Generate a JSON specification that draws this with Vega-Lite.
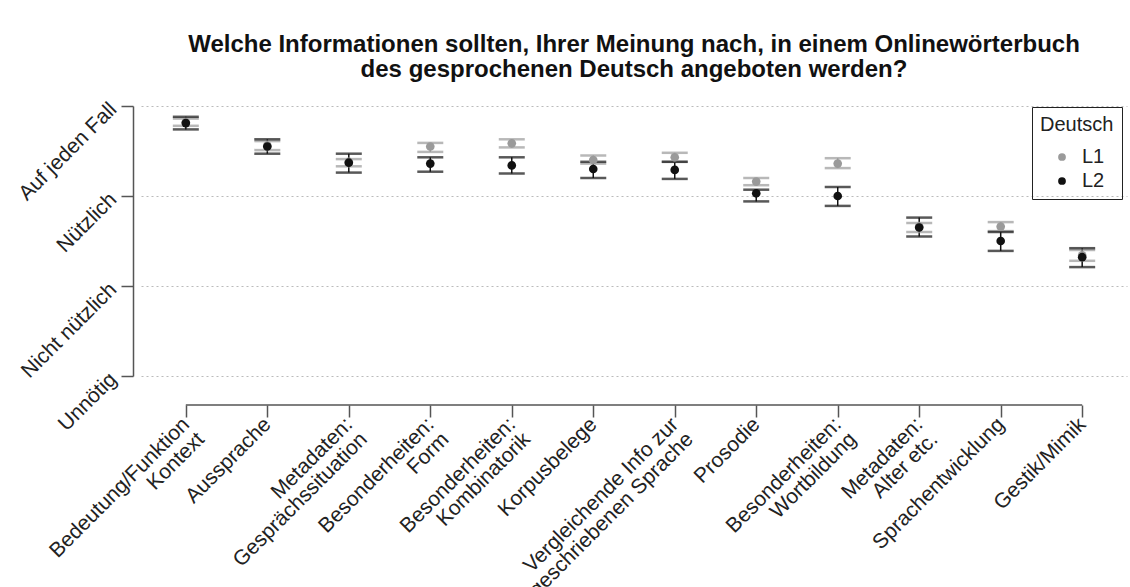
{
  "$schema": "https://vega.github.io/schema/vega-lite/v6.json",
  "autosize": "none",
  "width": 986,
  "height": 270,
  "padding": {"left": 141, "top": 106, "right": 3, "bottom": 211},
  "background": "white",
  "config": {
    "font": "Liberation Sans",
    "view": {"stroke": null}
  },
  "title": {
    "text": ["Welche Informationen sollten, Ihrer Meinung nach, in einem Onlinewörterbuch", "des gesprochenen Deutsch angeboten werden?"],
    "font": "Liberation Sans",
    "fontSize": 24,
    "fontWeight": "bold",
    "lineHeight": 25,
    "color": "#111",
    "anchor": "middle",
    "offset": 16
  },
  "resolve": {"legend": {"color": "independent"}},
  "data": {
    "values": [
      {"item": "Bedeutung/Funktion\nKontext", "group": "L1", "mean": 3.82, "lo": 3.78, "hi": 3.86},
      {"item": "Bedeutung/Funktion\nKontext", "group": "L2", "mean": 3.81, "lo": 3.74, "hi": 3.88},
      {"item": "Aussprache", "group": "L1", "mean": 3.56, "lo": 3.51, "hi": 3.61},
      {"item": "Aussprache", "group": "L2", "mean": 3.55, "lo": 3.47, "hi": 3.63},
      {"item": "Metadaten:\nGesprächssituation", "group": "L1", "mean": 3.38, "lo": 3.33, "hi": 3.41},
      {"item": "Metadaten:\nGesprächssituation", "group": "L2", "mean": 3.37, "lo": 3.26, "hi": 3.47},
      {"item": "Besonderheiten:\nForm", "group": "L1", "mean": 3.55, "lo": 3.49, "hi": 3.59},
      {"item": "Besonderheiten:\nForm", "group": "L2", "mean": 3.36, "lo": 3.27, "hi": 3.43},
      {"item": "Besonderheiten:\nKombinatorik", "group": "L1", "mean": 3.585, "lo": 3.54, "hi": 3.63},
      {"item": "Besonderheiten:\nKombinatorik", "group": "L2", "mean": 3.34, "lo": 3.25, "hi": 3.43},
      {"item": "Korpusbelege", "group": "L1", "mean": 3.40, "lo": 3.36, "hi": 3.45},
      {"item": "Korpusbelege", "group": "L2", "mean": 3.30, "lo": 3.20, "hi": 3.38},
      {"item": "Vergleichende Info zur\ngeschriebenen Sprache", "group": "L1", "mean": 3.43, "lo": 3.38, "hi": 3.48},
      {"item": "Vergleichende Info zur\ngeschriebenen Sprache", "group": "L2", "mean": 3.29, "lo": 3.19, "hi": 3.38},
      {"item": "Prosodie", "group": "L1", "mean": 3.16, "lo": 3.12, "hi": 3.20},
      {"item": "Prosodie", "group": "L2", "mean": 3.03, "lo": 2.94, "hi": 3.07},
      {"item": "Besonderheiten:\nWortbildung", "group": "L1", "mean": 3.36, "lo": 3.31, "hi": 3.42},
      {"item": "Besonderheiten:\nWortbildung", "group": "L2", "mean": 3.00, "lo": 2.89, "hi": 3.10},
      {"item": "Metadaten:\nAlter etc.", "group": "L1", "mean": 2.66, "lo": 2.60, "hi": 2.70},
      {"item": "Metadaten:\nAlter etc.", "group": "L2", "mean": 2.65, "lo": 2.55, "hi": 2.76},
      {"item": "Sprachentwicklung", "group": "L1", "mean": 2.66, "lo": 2.61, "hi": 2.71},
      {"item": "Sprachentwicklung", "group": "L2", "mean": 2.50, "lo": 2.39, "hi": 2.60},
      {"item": "Gestik/Mimik", "group": "L1", "mean": 2.34, "lo": 2.28, "hi": 2.40},
      {"item": "Gestik/Mimik", "group": "L2", "mean": 2.32, "lo": 2.21, "hi": 2.42}
    ]
  },
  "encoding": {
    "x": {
      "field": "item",
      "type": "nominal",
      "scale": {
        "type": "point",
        "padding": 0.55,
        "domain": ["Bedeutung/Funktion\nKontext", "Aussprache", "Metadaten:\nGesprächssituation", "Besonderheiten:\nForm", "Besonderheiten:\nKombinatorik", "Korpusbelege", "Vergleichende Info zur\ngeschriebenen Sprache", "Prosodie", "Besonderheiten:\nWortbildung", "Metadaten:\nAlter etc.", "Sprachentwicklung", "Gestik/Mimik"]
      },
      "axis": {
        "title": null,
        "offset": 29,
        "domain": false,
        "ticks": true,
        "tickSize": 12,
        "tickColor": "#555",
        "tickWidth": 1.5,
        "grid": false,
        "labelAngle": -45,
        "labelAlign": "right",
        "labelBaseline": "middle",
        "labelPadding": 4,
        "labelFont": "Liberation Sans",
        "labelFontSize": 21,
        "labelLineHeight": 21,
        "labelColor": "#222",
        "labelLimit": 500,
        "labelOverlap": false,
        "labelExpr": "split(datum.label, '\\n')"
      }
    }
  },
  "layer": [
    {
      "mark": {"type": "rule", "strokeWidth": 1.5},
      "encoding": {
        "y": {
          "field": "lo",
          "type": "quantitative",
          "scale": {"domain": [1, 4], "nice": false, "zero": false},
          "axis": {
            "title": null,
            "offset": 8,
            "values": [1, 2, 3, 4],
            "domainColor": "#555",
            "domainWidth": 1.5,
            "tickColor": "#555",
            "tickWidth": 1.5,
            "tickSize": 12,
            "grid": true,
            "gridColor": "#bbbbbb",
            "gridDash": [2, 3],
            "gridWidth": 1,
            "labelAngle": -45,
            "labelAlign": "right",
            "labelBaseline": "middle",
            "labelPadding": 8,
            "labelFont": "Liberation Sans",
            "labelFontSize": 21,
            "labelColor": "#222",
            "labelLimit": 500,
            "labelOverlap": false,
            "labelExpr": "datum.value == 4 ? 'Auf jeden Fall' : datum.value == 3 ? 'Nützlich' : datum.value == 2 ? 'Nicht nützlich' : 'Unnötig'"
          }
        },
        "y2": {"field": "hi"},
        "color": {"field": "group", "type": "nominal", "scale": {"domain": ["L1", "L2"], "range": ["#9a9a9a", "#111111"]}, "legend": null}
      }
    },
    {
      "mark": {"type": "tick", "size": 26, "thickness": 2.5},
      "encoding": {
        "y": {"field": "lo", "type": "quantitative"},
        "color": {"field": "group", "type": "nominal", "legend": null}
      }
    },
    {
      "mark": {"type": "tick", "size": 26, "thickness": 2.5},
      "encoding": {
        "y": {"field": "hi", "type": "quantitative"},
        "color": {"field": "group", "type": "nominal", "legend": null}
      }
    },
    {
      "mark": {"type": "point", "shape": "circle", "filled": true, "opacity": 1, "size": 75},
      "encoding": {
        "y": {"field": "mean", "type": "quantitative"},
        "color": {
          "field": "group",
          "type": "nominal",
          "legend": {
            "title": "Deutsch",
            "orient": "none",
            "legendX": 891,
            "legendY": 1,
            "strokeColor": "#222",
            "padding": 8,
            "symbolOffset": 12,
            "symbolType": "circle",
            "symbolSize": 60,
            "labelOffset": 10,
            "titleFont": "Liberation Sans",
            "titleFontSize": 20,
            "titleFontWeight": "normal",
            "titleColor": "#222",
            "titlePadding": 12,
            "labelFont": "Liberation Sans",
            "labelFontSize": 20,
            "labelColor": "#222",
            "rowPadding": 4
          }
        }
      }
    },
    {
      "data": {"values": [{}]},
      "mark": {"type": "rule", "color": "#555", "strokeWidth": 1.5},
      "encoding": {
        "x": {"datum": "Bedeutung/Funktion\nKontext"},
        "x2": {"datum": "Gestik/Mimik"},
        "y": {"datum": 0.678}
      }
    }
  ]
}
